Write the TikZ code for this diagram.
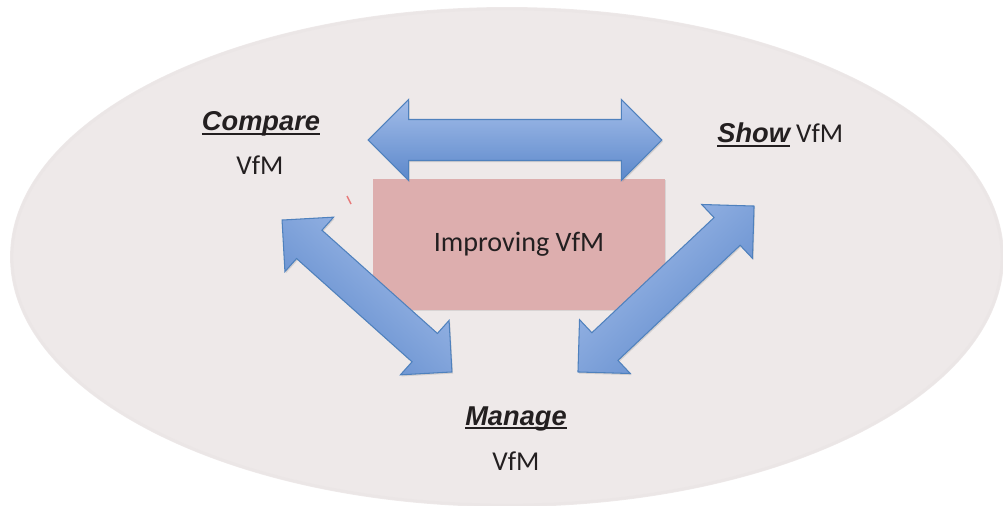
\documentclass[tikz,border=0pt]{standalone}
\usepackage{fontspec}
\setmainfont{Carlito}
\newfontfamily\kwfont{Liberation Sans}
\usetikzlibrary{shapes.arrows,shadows}

\definecolor{ovalbg}{RGB}{238,233,233}
\definecolor{boxpink}{RGB}{221,174,174}
\definecolor{arrowedge}{RGB}{79,129,189}
\definecolor{arrowlight}{RGB}{163,189,233}
\definecolor{arrowdark}{RGB}{92,136,203}
\definecolor{inkgray}{RGB}{35,31,32}

% bold italic keyword with a rule through the descenders
\newcommand{\ulword}[1]{\setbox0\hbox{#1}\rlap{\rule[-2.4pt]{\wd0}{1.1pt}}\box0\relax}
\newcommand{\kw}[1]{\ulword{\kwfont\bfseries\itshape #1}}

\begin{document}
\begin{tikzpicture}[x=0.02cm,y=-0.02cm,
    dblarrow/.style={double arrow, draw=arrowedge, line width=0.6pt,
      top color=arrowlight, bottom color=arrowdark, inner xsep=0pt,
      double arrow head extend=#1,
      drop shadow={opacity=0.25,shadow xshift=0.6pt,shadow yshift=-0.9pt}},
    wordlabel/.style={text=inkgray, font=\fontsize{15.5}{18}\selectfont, inner sep=0pt}]
  \useasboundingbox[fill=white] (0,0) rectangle (1003,506);
  \fill[ovalbg] (507,257) ellipse [x radius=9.94cm, y radius=5cm];
  \draw[ovalbg!94!black, opacity=0.2, line width=1.5pt] (507,257) ellipse [x radius=9.9cm, y radius=4.96cm];
  \draw[boxpink!70!red, line width=0.8pt] (347,196) -- (351,204);

  % centre box
  \node[fill=boxpink, minimum width=5.84cm, minimum height=2.62cm, inner sep=0pt,
    text=inkgray, font=\fontsize{16}{19}\selectfont,
    drop shadow={opacity=0.2,shadow xshift=0.8pt,shadow yshift=-0.8pt}] (improve) at (519,244.5) {Improving VfM};

  % the three two-way arrows
  \node[dblarrow=0.4cm, inner ysep=0.4cm, minimum height=5.88cm] (toparrow) at (515,140) {};
  \node[dblarrow=0.35cm, inner ysep=0.37cm, minimum height=4.56cm, rotate=-41.8, shading angle=-41.8] (leftarrow) at (367,296) {};
  \node[dblarrow=0.36cm, inner ysep=0.37cm, minimum height=4.84cm, rotate=43.3, shading angle=43.3] (rightarrow) at (666,289) {};

  % corner words
  \node[wordlabel, anchor=base] (compare) at (261,131) {\kw{Compare}};
  \node[wordlabel, anchor=base] (comparevfm) at (260,175) {VfM};
  \node[wordlabel, anchor=base west] (show) at (717,143) {\kw{Show} VfM};
  \node[wordlabel, anchor=base] (manage) at (516,425) {\kw{Manage}};
  \node[wordlabel, anchor=base] (managevfm) at (516,470) {VfM};
\end{tikzpicture}
\end{document}
